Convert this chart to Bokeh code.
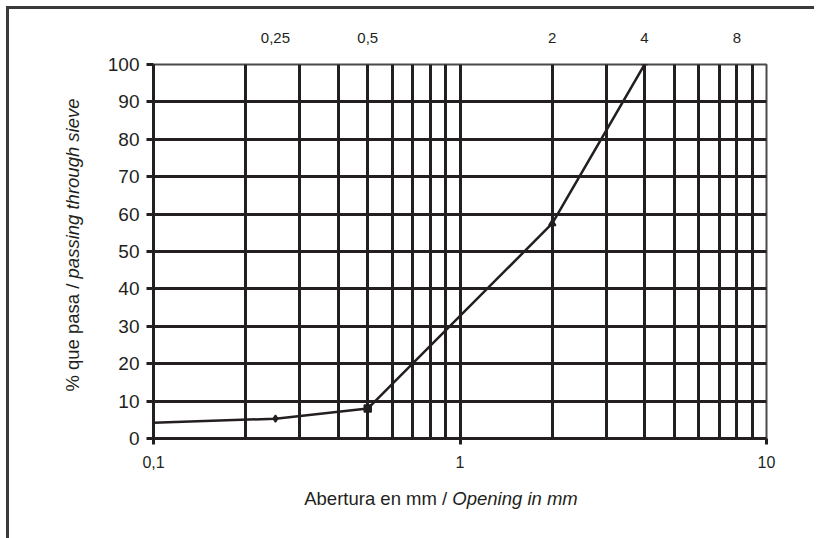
from bokeh.plotting import figure
from bokeh.models import LogAxis, FixedTicker, ColumnDataSource, Div
from bokeh.layouts import row, column
from bokeh.embed import file_html
from bokeh.resources import INLINE

# ---- data ----
opening_mm = [0.1, 0.25, 0.5, 2.0, 4.0]
passing_pct = [4.2, 5.3, 8.0, 57.5, 100.0]

bottom_ticks = [0.1, 1, 10]
bottom_labels = ["0,1", "1", "10"]
top_ticks = [0.25, 0.5, 2, 4, 8]
top_labels = ["0,25", "0,5", "2", "4", "8"]
y_ticks = [0, 10, 20, 30, 40, 50, 60, 70, 80, 90, 100]
y_grid = [10, 20, 30, 40, 50, 60, 70, 80, 90]
grid_x = [0.2, 0.3, 0.4, 0.5, 0.6, 0.7, 0.8, 0.9, 1, 2, 3, 4, 5, 6, 7, 8, 9, 10]

x_title = ("Abertura en mm / ", "Opening in mm")
y_title = ("% que pasa / ", "passing through sieve")

INK = "#231f20"
FONT = "Liberation Sans"

p = figure(
    x_axis_type="log", x_range=(0.1, 10), y_range=(0, 100),
    frame_width=613, frame_height=374,
    min_border_left=64, min_border_right=48, min_border_top=55, min_border_bottom=40,
    output_backend="svg", toolbar_location=None,
    background_fill_color="white", border_fill_color="white",
)
p.margin = 0

p.outline_line_color = "#4a4a4a"
p.outline_line_width = 2
p.outline_line_alpha = 1

# grids
p.xgrid.ticker = FixedTicker(ticks=grid_x)
p.xgrid.grid_line_color = INK
p.xgrid.grid_line_width = 3
p.ygrid.ticker = FixedTicker(ticks=y_grid)
p.ygrid.grid_line_color = INK
p.ygrid.grid_line_width = 3

# bottom axis
xa = p.xaxis[0]
xa.ticker = FixedTicker(ticks=bottom_ticks)
xa.major_label_overrides = {t: l for t, l in zip(bottom_ticks, bottom_labels)}
xa.axis_line_color = INK
xa.axis_line_width = 3
xa.major_tick_line_color = INK
xa.major_tick_line_width = 3
xa.major_tick_out = 6
xa.major_tick_in = 0
xa.minor_tick_line_color = None
xa.major_label_text_font = FONT
xa.major_label_text_font_size = "16px"
xa.major_label_text_color = INK
xa.major_label_standoff = 11

# left axis
ya = p.yaxis[0]
ya.ticker = FixedTicker(ticks=y_ticks)
ya.axis_line_color = INK
ya.axis_line_width = 3
ya.major_tick_line_color = INK
ya.major_tick_line_width = 3
ya.major_tick_out = 7
ya.major_tick_in = 0
ya.minor_tick_line_color = None
ya.major_label_text_font = FONT
ya.major_label_text_font_size = "19px"
ya.major_label_text_color = INK
ya.major_label_standoff = 7

# top axis
top = LogAxis(ticker=FixedTicker(ticks=top_ticks))
top.major_label_overrides = {t: l for t, l in zip(top_ticks, top_labels)}
top.axis_line_color = None
top.major_tick_line_color = None
top.minor_tick_line_color = None
top.major_label_text_font = FONT
top.major_label_text_font_size = "15px"
top.major_label_text_color = INK
top.major_label_standoff = 16
p.add_layout(top, "above")

# data line and markers
src = ColumnDataSource(dict(x=opening_mm, y=passing_pct))
p.line("x", "y", source=src, line_color=INK, line_width=2.5)
marker_styles = [None, "diamond", "square", "triangle", "dash"]
for i, m in enumerate(marker_styles):
    if m is None:
        continue
    p.scatter([opening_mm[i]], [passing_pct[i]], marker=m, size=7,
              fill_color=INK, line_color=INK, line_width=1.5)

# axis titles (mixed regular / italic) as HTML
txt_css = (f"font-family:'{FONT}'; font-size:18.5px; color:{INK}; white-space:nowrap;"
           "position:absolute; line-height:1;")
ydiv = Div(
    width=80, height=529, margin=0,
    text=(f'<div style="position:relative; width:80px; height:529px;">'
          f'<span style="{txt_css} left:64px; top:236px; '
          f'transform: translate(-50%,-50%) rotate(-90deg);">'
          f'{y_title[0]}<i>{y_title[1]}</i></span></div>'),
)
xdiv = Div(
    width=725, height=60, margin=0,
    text=(f'<div style="position:relative; width:725px; height:60px;">'
          f'<span style="{txt_css} left:352px; top:21px; transform: translate(-50%,-50%);">'
          f'{x_title[0]}<i>{x_title[1]}</i></span></div>'),
)

layout = row(ydiv, column(p, xdiv, margin=0), margin=0)
layout.styles = {"border-top": "3px solid #3a3a3a", "border-left": "3px solid #3a3a3a",
                 "margin-left": "6px", "margin-top": "6px"}

open("out.html", "w").write(file_html(layout, INLINE))
